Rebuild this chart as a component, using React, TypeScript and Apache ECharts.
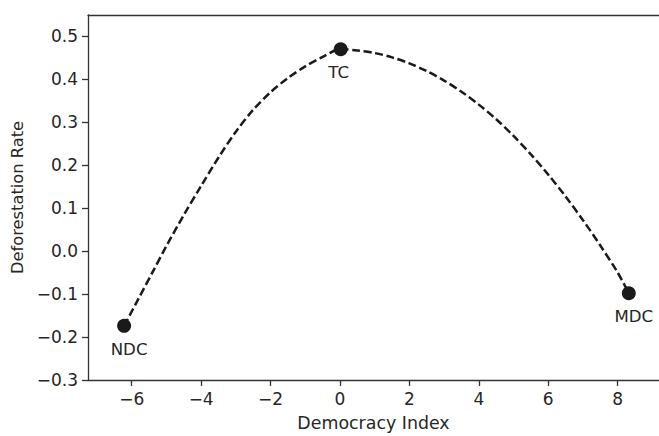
import React, { useEffect, useRef } from "react";
import * as echarts from "echarts";

const curveX = [-6.22, -5.8, -5.4, -5.0, -4.5, -4.0, -3.5, -3.0, -2.5, -2.0, -1.5, -1.0, -0.5, 0.02, 0.5, 1.0, 1.5, 2.0, 2.5, 3.0, 3.5, 4.0, 4.5, 5.0, 5.5, 6.0, 6.5, 7.0, 7.5, 8.0, 8.32];
const curveY = [-0.174, -0.110, -0.049, 0.012, 0.084, 0.152, 0.218, 0.278, 0.329, 0.370, 0.403, 0.430, 0.452, 0.470, 0.467, 0.461, 0.451, 0.437, 0.419, 0.397, 0.371, 0.341, 0.307, 0.268, 0.225, 0.178, 0.127, 0.072, 0.013, -0.050, -0.098];

const pointNames = ["NDC", "TC", "MDC"];
const pointX = [-6.22, 0.02, 8.32];
const pointY = [-0.174, 0.47, -0.098];
const labelOffsets = [[5, 0], [-2, 0], [5, 0]];

const xTicks = [-6, -4, -2, 0, 2, 4, 6, 8];
const yTicks = [-0.3, -0.2, -0.1, 0.0, 0.1, 0.2, 0.3, 0.4, 0.5];

const FONT = "DejaVu Sans";
const TEXT = "#262626";
const AXIS = "#333333";

function fmtMinus(s: string) {
  return s.replace("-", "\u2212");
}

export default function App() {
  const ref = useRef<HTMLDivElement>(null);
  useEffect(() => {
    if (!ref.current) return;
    const chart = echarts.init(ref.current, undefined, { renderer: "svg" });
    chart.setOption({
      animation: false,
      backgroundColor: "#ffffff",
      grid: { left: 88, right: 0, top: 15, bottom: 49.3, containLabel: false },
      xAxis: [
        {
          type: "value",
          min: -7.26,
          max: 9.19,
          name: "Democracy Index",
          nameLocation: "middle",
          nameGap: 34,
          nameTextStyle: { fontFamily: FONT, fontSize: 17.4, color: TEXT },
          axisLine: { show: true, onZero: false, lineStyle: { color: AXIS, width: 1.3 } },
          axisTick: { show: true, length: 6, customValues: xTicks, lineStyle: { color: AXIS, width: 1.3 } },
          axisLabel: {
            customValues: xTicks,
            margin: 10,
            fontFamily: FONT,
            fontSize: 17,
            color: TEXT,
            formatter: (v: number) => fmtMinus(String(v)),
          },
          splitLine: { show: false },
        },
        {
          type: "value",
          position: "top",
          min: -7.26,
          max: 9.19,
          axisLine: { show: true, onZero: false, lineStyle: { color: AXIS, width: 1.3 } },
          axisTick: { show: false },
          axisLabel: { show: false },
          splitLine: { show: false },
        },
      ],
      yAxis: {
        type: "value",
        min: -0.3,
        max: 0.5496,
        name: "Deforestation Rate",
        nameLocation: "middle",
        nameGap: 60,
        nameTextStyle: { fontFamily: FONT, fontSize: 16.3, color: TEXT },
        axisLine: { show: true, onZero: false, lineStyle: { color: AXIS, width: 1.3 } },
        axisTick: { show: true, length: 6, customValues: yTicks, lineStyle: { color: AXIS, width: 1.3 } },
        axisLabel: {
          customValues: yTicks,
          margin: 10,
          fontFamily: FONT,
          fontSize: 17,
          color: TEXT,
          formatter: (v: number) => fmtMinus(v.toFixed(1)),
        },
        splitLine: { show: false },
      },
      series: [
        {
          type: "line",
          xAxisIndex: 0,
          data: curveX.map((x, i) => [x, curveY[i]]),
          showSymbol: false,
          symbol: "none",
          smooth: 0.3,
          lineStyle: { color: "#1a1a1a", width: 2.5, type: [8, 3.6] },
          silent: true,
          z: 2,
        },
        {
          type: "scatter",
          xAxisIndex: 0,
          symbol: "circle",
          symbolSize: 14,
          itemStyle: { color: "#1a1a1a", opacity: 1 },
          z: 3,
          data: pointNames.map((n, i) => ({
            name: n,
            value: [pointX[i], pointY[i]],
            label: {
              show: true,
              position: "bottom",
              distance: 8,
              offset: labelOffsets[i],
              formatter: n,
              fontFamily: FONT,
              fontSize: 16.6,
              color: TEXT,
            },
          })),
        },
      ],
    });
    return () => chart.dispose();
  }, []);
  return <div ref={ref} style={{ width: 659, height: 436, position: "absolute", left: 0, top: 0 }} />;
}
